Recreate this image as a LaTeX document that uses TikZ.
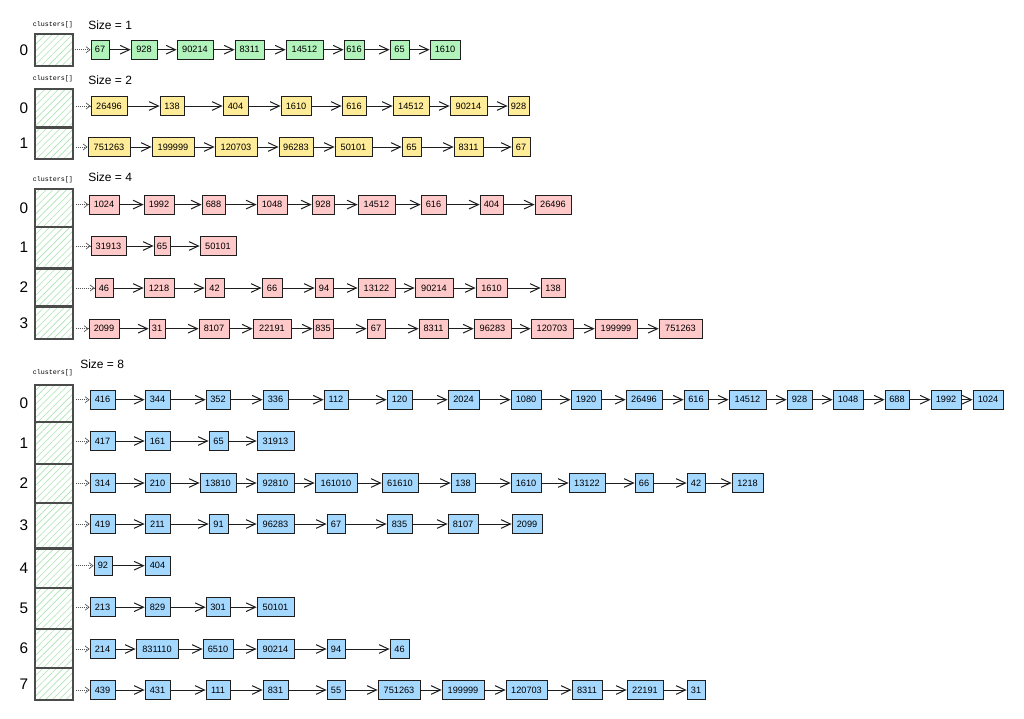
\documentclass[tikz,border=0pt]{standalone}
\usepackage{fontspec}
\setmainfont{Liberation Sans}
\newfontfamily\codefont{Liberation Mono}
\usetikzlibrary{arrows.meta,patterns.meta}
\definecolor{ink}{HTML}{1E1E1E}
\definecolor{hatch}{HTML}{A8E2B0}
\definecolor{fillgreen}{HTML}{B2F2BB}
\definecolor{fillyellow}{HTML}{FFEC99}
\definecolor{fillpink}{HTML}{FFC9C9}
\definecolor{fillblue}{HTML}{A5D8FF}
\tikzset{
	item/.style={draw=ink, line width=0.6pt, inner sep=0pt, minimum height=14.5pt, font=\fontsize{6.9}{8}\selectfont},
	link/.style={draw=ink, line width=0.75pt, -{Straight Barb[length=7pt,width=6.5pt]}},
	ptr/.style={draw=ink!75, line width=0.5pt, densely dotted, shorten <=1.5pt, -{Straight Barb[length=3pt,width=4.5pt]}},
	slot/.style={draw=ink!80, line width=0.9pt, pattern={Lines[angle=45,distance=3.6pt,line width=0.45pt]}, pattern color=hatch, minimum width=28.5pt, inner sep=0pt},
	idx/.style={font=\fontsize{11.5}{13}\selectfont},
	caption/.style={anchor=west, inner sep=0pt, font=\fontsize{9}{11}\selectfont},
	arr/.style={font=\codefont\fontsize{5}{6}\selectfont}
}
% one cluster slot: name, top, bottom, index
\def\clusterbox#1#2#3#4{\node[slot, minimum height={(#3-#2)*0.75pt}] (#1) at (54,{(#2+#3)/2}) {};
	\node[idx] (#1i) at (24,{(#2+#3)/2}) {#4};}
% one linked list: slot name, y, fill, left/right/text
\def\bucketrow#1#2#3#4{%
	\foreach \xa/\xb/\txt [count=\i, remember=\i as \j (initially 0)] in {#4} {
		\node[item, fill=#3, minimum width={(\xb-\xa)*0.75pt}] (#1n\i) at ({(\xa+\xb)/2},#2) {\txt};
		\ifnum\i=1 \draw[ptr] (#1.east |- #1n\i) -- (#1n\i.west); \else \draw[link] (#1n\j) -- (#1n\i); \fi
	}}

\begin{document}
\begin{tikzpicture}[x=0.75pt,y=-0.75pt]
			%%%%% START %%%%%
			\useasboundingbox (0,0) rectangle (1024,718);
			
			% Size = 1
			\node[arr] (t1) at (53,25) {clusters[]};
			\node[caption] (h1) at (88,25) {Size = 1};
			\clusterbox{a0}{34}{66}{0}
			\bucketrow{a0}{49.7}{fillgreen}{91/109/67, 131/157/928, 177/213/90214, 235/264/8311, 286/323/14512, 344/364/616, 390/409/65, 430/460/1610}
			
			% Size = 2
			\node[arr] (t2) at (53,79) {clusters[]};
			\node[caption] (h2) at (88,80) {Size = 2};
			\clusterbox{b0}{89}{127}{0}
			\clusterbox{b1}{128}{159}{1}
			\bucketrow{b0}{106}{fillyellow}{91/127/26496, 160/184/138, 223/248/404, 281/311/1610, 342/366/616, 393/429/14512, 450/487/90214, 508/529/928}
			\bucketrow{b1}{147}{fillyellow}{88/130/751263, 152/194/199999, 215/257/120703, 279/313/96283, 335/372/50101, 402/421/65, 454/483/8311, 512/530/67}
			
			% Size = 4
			\node[arr] (t4) at (53,180) {clusters[]};
			\node[caption] (h4) at (88,177) {Size = 4};
			\clusterbox{c0}{189}{227}{0}
			\clusterbox{c1}{227}{268}{1}
			\clusterbox{c2}{269}{306}{2}
			\clusterbox{c3}{307}{339}{3}
			\bucketrow{c0}{204.6}{fillpink}{89/119/1024, 144/174/1992, 202/225/688, 257/287/1048, 312/334/928, 358/395/14512, 421/446/616, 480/503/404, 535/571/26496}
			\bucketrow{c1}{246}{fillpink}{91/126/31913, 154/170/65, 200/236/50101}
			\bucketrow{c2}{288}{fillpink}{95/113/46, 144/174/1218, 205/224/42, 262/282/66, 315/333/94, 358/395/13122, 415/453/90214, 476/507/1610, 541/565/138}
			\bucketrow{c3}{328.7}{fillpink}{89/119/2099, 149/165/31, 199/229/8107, 253/291/22191, 313/333/835, 367/385/67, 419/448/8311, 474/511/96283, 531/573/120703, 595/637/199999, 659/702/751263}
			
			% Size = 8
			\node[arr] (t8) at (53,373) {clusters[]};
			\node[caption] (h8) at (80,364) {Size = 8};
			\clusterbox{d0}{385}{422}{0}
			\clusterbox{d1}{422}{464}{1}
			\clusterbox{d2}{464}{503}{2}
			\clusterbox{d3}{503}{548}{3}
			\clusterbox{d4}{549}{588}{4}
			\clusterbox{d5}{588}{629}{5}
			\clusterbox{d6}{629}{668}{6}
			\clusterbox{d7}{668}{700}{7}
			\bucketrow{d0}{399.7}{fillblue}{90/115/416, 145/170/344, 206/230/352, 263/288/336, 324/348/112, 387/412/120, 448/479/2024, 511/541/1080, 571/601/1920, 626/662/26496, 684/708/616, 729/766/14512, 787/812/928, 833/863/1048, 885/909/688, 931/961/1992, 973/1003/1024}
			\bucketrow{d1}{441}{fillblue}{90/115/417, 145/170/161, 209/228/65, 257/294/31913}
			\bucketrow{d2}{483}{fillblue}{90/115/314, 145/170/210, 200/236/13810, 257/294/92810, 315/357/161010, 382/418/61610, 451/475/138, 511/541/1610, 569/605/13122, 635/653/66, 687/705/42, 732/763/1218}
			\bucketrow{d3}{524}{fillblue}{90/115/419, 145/170/211, 209/228/91, 257/294/96283, 327/345/67, 387/412/835, 448/478/8107, 512/542/2099}
			\bucketrow{d4}{565.7}{fillblue}{94/112/92, 145/170/404}
			\bucketrow{d5}{607.2}{fillblue}{90/115/213, 145/170/829, 206/230/301, 257/294/50101}
			\bucketrow{d6}{649}{fillblue}{90/115/214, 136/178/831110, 203/233/6510, 257/294/90214, 327/345/94, 390/409/46}
			\bucketrow{d7}{690}{fillblue}{90/115/439, 145/170/431, 206/230/111, 263/288/831, 327/345/55, 378/420/751263, 442/484/199999, 506/547/120703, 572/602/8311, 627/663/22191, 687/705/31}
			%%%%% END %%%%%
		\end{tikzpicture}
\end{document}
